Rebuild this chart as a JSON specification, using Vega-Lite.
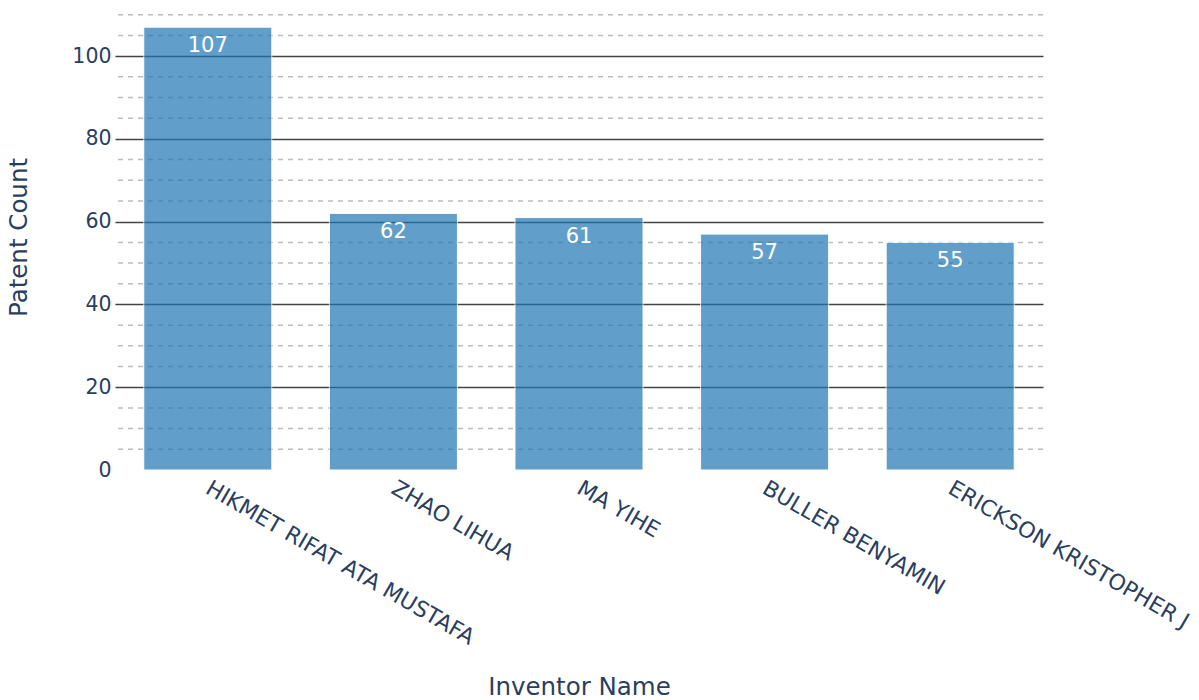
{
  "$schema": "https://vega.github.io/schema/vega-lite/v6.json",
  "autosize": {"type": "none"},
  "width": 928,
  "height": 466,
  "padding": {"left": 115, "top": 4, "right": 156, "bottom": 230},
  "background": "white",
  "config": {
    "view": {"stroke": null},
    "font": "DejaVu Sans"
  },
  "datasets": {
    "inventors": [
      {"name": "HIKMET RIFAT ATA MUSTAFA", "count": 107},
      {"name": "ZHAO LIHUA", "count": 62},
      {"name": "MA YIHE", "count": 61},
      {"name": "BULLER BENYAMIN", "count": 57},
      {"name": "ERICKSON KRISTOPHER J", "count": 55}
    ],
    "minor": [
      {"v": 5}, {"v": 10}, {"v": 15}, {"v": 25}, {"v": 30}, {"v": 35},
      {"v": 45}, {"v": 50}, {"v": 55}, {"v": 65}, {"v": 70}, {"v": 75},
      {"v": 85}, {"v": 90}, {"v": 95}, {"v": 105}, {"v": 110}
    ]
  },
  "layer": [
    {
      "data": {"name": "minor"},
      "mark": {"type": "rule", "color": "#bdbdbd", "strokeWidth": 1.5, "strokeDash": [5, 5]},
      "encoding": {
        "y": {"field": "v", "type": "quantitative", "title": "Patent Count", "scale": {"domain": [0, 112.6], "nice": false, "zero": true}}
      }
    },
    {
      "data": {"name": "inventors"},
      "mark": {"type": "bar", "color": "#1f77b4", "opacity": 0.7, "stroke": "white", "strokeWidth": 1},
      "encoding": {
        "x": {
          "field": "name", "type": "nominal", "sort": null,
          "scale": {"paddingInner": 0.31, "paddingOuter": 0.155},
          "axis": {
            "title": "Inventor Name",
            "titleFont": "DejaVu Sans", "titleFontSize": 24.5, "titleFontWeight": "normal", "titleColor": "#2a3f5f",
            "titlePadding": 27,
            "labelAngle": 30, "labelAlign": "left", "labelBaseline": "middle",
            "labelFont": "DejaVu Sans", "labelFontSize": 22, "labelColor": "#2a3f5f",
            "labelPadding": 16, "labelLimit": 0,
            "ticks": false, "domain": false, "grid": false
          }
        },
        "y": {
          "field": "count", "type": "quantitative", "title": "Patent Count",
          "scale": {"domain": [0, 112.6], "nice": false, "zero": true},
          "axis": {
            "title": "Patent Count",
            "titleFont": "DejaVu Sans", "titleFontSize": 24.5, "titleFontWeight": "normal", "titleColor": "#2a3f5f",
            "titlePadding": 40,
            "values": [0, 20, 40, 60, 80, 100],
            "labelFont": "DejaVu Sans", "labelFontSize": 20.5, "labelColor": "#2a3f5f",
            "labelPadding": 4,
            "ticks": false, "domain": false,
            "grid": true, "gridColor": "#444444", "gridWidth": 1.4,
            "gridOpacity": {"condition": {"test": "datum.value === 0", "value": 0}, "value": 1},
            "zindex": 0
          }
        }
      }
    },
    {
      "data": {"name": "inventors"},
      "mark": {"type": "text", "color": "white", "fontSize": 21, "font": "DejaVu Sans", "baseline": "top", "dy": 8},
      "encoding": {
        "x": {"field": "name", "type": "nominal", "sort": null},
        "y": {"field": "count", "type": "quantitative"},
        "text": {"field": "count", "type": "quantitative"}
      }
    }
  ]
}
